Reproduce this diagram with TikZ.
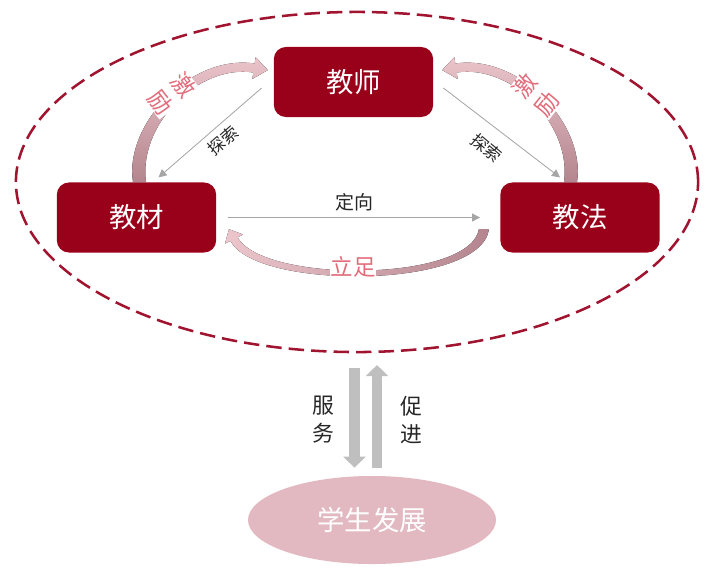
\documentclass[tikz,border=0pt]{standalone}
\usepackage{fontspec}
\setmainfont{Noto Sans CJK SC}
\usetikzlibrary{shapes.geometric, arrows.meta, calc}
\definecolor{deepred}{HTML}{990019}
\definecolor{ringred}{HTML}{A0142F}
\definecolor{rosefill}{HTML}{E3B9C1}
\definecolor{pinktext}{HTML}{E36C7B}
\definecolor{pinklight}{HTML}{ECC6CC}
\definecolor{mauve}{HTML}{B4858E}
\definecolor{arrowgray}{HTML}{A6A6A6}
\definecolor{blockgray}{HTML}{BFBFBF}
\tikzset{
  role/.style={rectangle, fill=deepred, text=white,
               minimum width=3.98cm, minimum height=1.75cm,
               rounded corners=0.3cm, font=\fontsize{19.5}{20}\selectfont},
  goal/.style={ellipse, fill=rosefill, text=white, inner sep=0pt,
               minimum width=6.2cm, minimum height=2.2cm,
               font=\fontsize{19.5}{20}\selectfont},
  ring/.style={ellipse, draw=ringred, line width=1.8pt,
               dash pattern=on 11pt off 5pt,
               minimum width=17.05cm, minimum height=8.5cm},
  arrow/.style={-{Triangle[length=2mm,width=2mm]}, line width=0.6pt, arrowgray},
  tag/.style={font=\fontsize{13.5}{14}\selectfont, text=black!85, inner sep=0pt},
  warmtag/.style={font=\fontsize{16.5}{18}\selectfont, text=pinktext,
                  fill=white, inner sep=0.5pt, align=center},
  block/.style={line width=0.27cm, draw=blockgray,
                -{Triangle[length=0.28cm,width=0.55cm]}},
}

\begin{document}
\begin{tikzpicture}[x=0.025cm, y=-0.025cm]
  \useasboundingbox (0,0) rectangle (718,568);
  \node[ring] (ring) at (357,182) {};
  \node[role] (js) at (353.5,82) {教师};
  \node[role] (jc) at (136.5,217.5) {教材};
  \node[role] (jf) at (580,217.5) {教法};
  \node[goal] (goal) at (372,520) {学生发展};
  % curved arrows
  \fill[top color=pinklight, bottom color=mauve]
    (133,182) .. controls (124,125) and (190,54) .. (254.7,63.5)
    -- (255.6,57.1) -- (267.8,70.1) -- (252.4,78.9) -- (253.3,72.5)
    .. controls (198,64) and (138,125) .. (146,182) -- cycle;
  \fill[top color=pinklight, bottom color=mauve]
    (577,182) .. controls (586,125) and (520,54) .. (455.3,63.5)
    -- (454.4,57.1) -- (442.2,70.1) -- (457.6,78.9) -- (456.7,72.5)
    .. controls (512,64) and (572,125) .. (564,182) -- cycle;
  \fill[left color=pinklight, right color=mauve]
    (489,229) .. controls (481,290) and (255,290) .. (230.4,240.8)
    -- (225,243.5) -- (229,229.2) -- (243,234.5) -- (237.6,237.2)
    .. controls (262,283) and (470,283) .. (479,229) -- cycle;
  % thin arrows
  \draw[arrow] ([xshift=0.3cm]jc.east) -- ([xshift=-0.5cm]jf.west)
    node[tag, midway, above=4pt] {定向};
  \draw[arrow] ([xshift=-0.3cm,yshift=-0.15cm]js.west) -- ([xshift=0.55cm,yshift=0.12cm]jc.north);
  \draw[arrow] ([xshift=0.25cm,yshift=-0.15cm]js.east) -- ([xshift=-0.5cm,yshift=0.12cm]jf.north);
  \node[tag, font=\fontsize{12}{13}\selectfont, rotate=41] at (223,141) {探索};
  \node[tag, font=\fontsize{12}{13}\selectfont, rotate=-40] at (487,148) {探索};
  % labels on the curved arrows
  \node[warmtag, rotate=-52] at (172,94) {激\\[2pt]励};
  \node[warmtag, rotate=52] at (536,95) {激\\[2pt]励};
  \node[warmtag, font=\fontsize{16}{17}\selectfont] at (353,267) {立足};
  % service and promotion
  \coordinate (srvtop) at (354.5,368);
  \coordinate (prmtop) at (377,365);
  \draw[block, shorten >=0.2cm] (srvtop) -- (srvtop |- goal.north);
  \draw[block, shorten <=0.2cm] (prmtop |- goal.north) -- (prmtop);
  \node[tag, font=\fontsize{15.5}{20}\selectfont, align=center] at (323,420) {服\\务};
  \node[tag, font=\fontsize{15.5}{20}\selectfont, align=center] at (411,420) {促\\进};
\end{tikzpicture}
\end{document}
